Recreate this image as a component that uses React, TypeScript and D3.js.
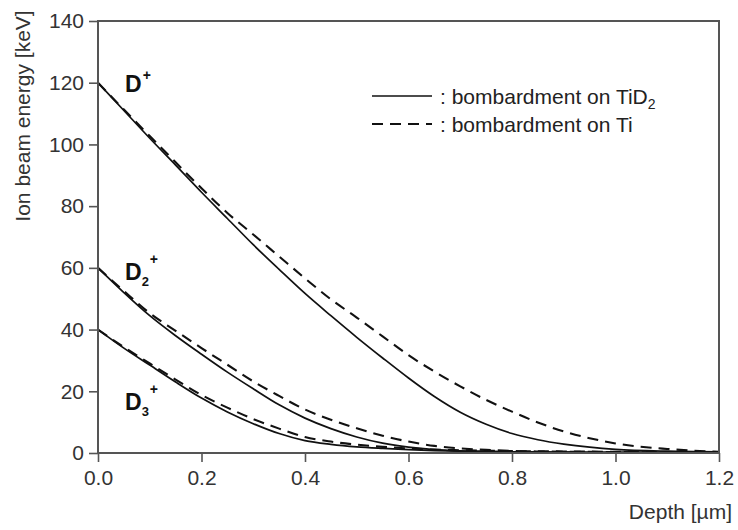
import React, { useRef, useEffect } from "react";
import * as d3 from "d3";

const depth = [
  0, 0.05, 0.1, 0.15, 0.2, 0.25, 0.3, 0.35, 0.4, 0.45, 0.5, 0.55, 0.6,
  0.65, 0.7, 0.75, 0.8, 0.85, 0.9, 0.95, 1.0, 1.1, 1.2,
];

// solid: bombardment on TiD2, dashed: bombardment on Ti
const d1Solid = [120, 111, 102, 93.3, 84.5, 76, 67.5, 59.5, 51.7, 44.5, 37.5, 30.8, 24.3, 18.3, 13.2, 9.3, 6.3, 4.3, 2.9, 1.9, 1.2, 0.6, 0.4];
const d1Dashed = [120, 111.3, 102.7, 94.2, 85.8, 77.8, 70.8, 63.7, 56.6, 49.8, 43.9, 37.8, 31.7, 26.4, 21.6, 17.2, 13.4, 9.9, 7.0, 4.8, 3.1, 1.3, 0.4];
const d2Solid = [60, 52, 44.5, 38, 32, 26.2, 20.8, 15.6, 11.3, 7.9, 5.2, 3.2, 1.9, 1.1, 0.7, 0.5, 0.4, 0.35, 0.3, 0.25, 0.2, 0.2, 0.2];
const d2Dashed = [60, 52.5, 45.3, 39.6, 34, 28.6, 23.2, 18.5, 14.1, 10.8, 8.0, 5.6, 3.7, 2.3, 1.5, 1.0, 0.7, 0.5, 0.4, 0.35, 0.3, 0.2, 0.2];
const d3Solid = [40, 34, 28.5, 23, 17.8, 13.3, 9.5, 6.3, 4.0, 2.8, 2.0, 1.5, 1.1, 0.8, 0.6, 0.5, 0.4, 0.35, 0.3, 0.25, 0.2, 0.2, 0.2];
const d3Dashed = [40, 34.3, 29, 23.8, 18.8, 14.7, 11, 7.9, 5.2, 3.7, 2.7, 2.0, 1.5, 1.1, 0.9, 0.75, 0.6, 0.55, 0.5, 0.45, 0.4, 0.3, 0.3];

const xTicks = [0, 0.2, 0.4, 0.6, 0.8, 1.0, 1.2];
const yTicks = [0, 20, 40, 60, 80, 100, 120, 140];

const MARGIN = { TOP: 21, LEFT: 98, RIGHT: 19, BOTTOM: 77 };
const W = 738;
const H = 530;
const FONT = "'Liberation Sans', Arial, sans-serif";
const DASH = "11,7";

const Chart = (element: HTMLDivElement) => {
  d3.select(element).selectAll("*").remove();
  const svg = d3
    .select(element)
    .append("svg")
    .attr("width", W)
    .attr("height", H)
    .style("position", "absolute")
    .style("left", 0)
    .style("top", 0)
    .style("background", "#fff");

  const x = d3.scaleLinear().domain([0, 1.2]).range([MARGIN.LEFT, W - MARGIN.RIGHT]);
  const y = d3.scaleLinear().domain([0, 140]).range([H - MARGIN.BOTTOM, MARGIN.TOP]);

  const line = d3
    .line<number>()
    .x((d, i) => x(depth[i]))
    .y(d => y(d))
    .curve(d3.curveMonotoneX);

  const series = [
    { v: d1Dashed, dash: DASH },
    { v: d2Dashed, dash: DASH },
    { v: d3Dashed, dash: DASH },
    { v: d1Solid, dash: null },
    { v: d2Solid, dash: null },
    { v: d3Solid, dash: null },
  ];
  series.forEach(s => {
    svg.append("path")
      .attr("d", line(s.v))
      .attr("fill", "none")
      .attr("stroke", "#111")
      .attr("stroke-width", s.dash ? 2.1 : 1.7)
      .attr("stroke-dasharray", s.dash);
  });

  // frame
  svg.append("rect")
    .attr("x", x(0)).attr("y", y(140))
    .attr("width", x(1.2) - x(0)).attr("height", y(0) - y(140))
    .attr("fill", "none").attr("stroke", "#555").attr("stroke-width", 2);

  const xAxis = d3.axisBottom(x).tickValues(xTicks).tickSize(9).tickPadding(6).tickFormat(d3.format(".1f"));
  const gx = svg.append("g").attr("transform", `translate(0, ${y(0)})`).call(xAxis);
  const yAxis = d3.axisLeft(y).tickValues(yTicks).tickSize(9).tickPadding(5).tickFormat(d3.format("d"));
  const gy = svg.append("g").attr("transform", `translate(${x(0)}, 0)`).call(yAxis);
  [gx, gy].forEach(g => {
    g.select(".domain").remove();
    g.selectAll("line").attr("stroke", "#555").attr("stroke-width", 1.6);
    g.selectAll("text").attr("font-family", FONT).attr("font-size", 21).attr("fill", "#333");
  });
  gx.selectAll("text").attr("dy", "0.8em");

  svg.append("text")
    .attr("transform", `translate(30, 116) rotate(-90)`)
    .attr("text-anchor", "middle")
    .attr("font-family", FONT).attr("font-size", 21).attr("fill", "#333")
    .text("Ion beam energy [keV]");

  svg.append("text")
    .attr("x", 732).attr("y", 519)
    .attr("text-anchor", "end")
    .attr("font-family", FONT).attr("font-size", 21).attr("fill", "#333")
    .text("Depth [µm]");

  // ion labels
  const ionLabels = [
    { sub: "", base: 92 },
    { sub: "2", base: 280 },
    { sub: "3", base: 410 },
  ];
  ionLabels.forEach(l => {
    const t = svg.append("text")
      .attr("x", 125).attr("y", l.base)
      .attr("font-family", FONT).attr("font-weight", "bold").attr("font-size", 23).attr("fill", "#111");
    t.append("tspan").text("D");
    if (l.sub) t.append("tspan").attr("font-size", 13).attr("dy", 6).text(l.sub);
    t.append("tspan").attr("font-size", 14).attr("dy", l.sub ? -22 : -12).attr("dx", l.sub ? 1 : 1).text("+");
  });

  // legend
  const legend = [
    { label: "bombardment on TiD", sub: "2", dash: null, ly: 96 },
    { label: "bombardment on Ti", sub: "", dash: DASH, ly: 124 },
  ];
  legend.forEach(l => {
    svg.append("line")
      .attr("x1", 372).attr("x2", 432).attr("y1", l.ly).attr("y2", l.ly)
      .attr("stroke", "#111").attr("stroke-width", l.dash ? 2.1 : 1.7)
      .attr("stroke-dasharray", l.dash);
    const t = svg.append("text")
      .attr("x", 440).attr("y", l.ly + 8)
      .attr("font-family", FONT).attr("font-size", 21).attr("fill", "#222");
    t.append("tspan").text(": " + l.label);
    if (l.sub) t.append("tspan").attr("font-size", 14).attr("dy", 5).text(l.sub);
  });
};

const App = () => {
  const ref = useRef<HTMLDivElement>(null);
  useEffect(() => {
    if (ref.current) Chart(ref.current);
  }, []);
  return <div ref={ref}></div>;
};

export default App;
